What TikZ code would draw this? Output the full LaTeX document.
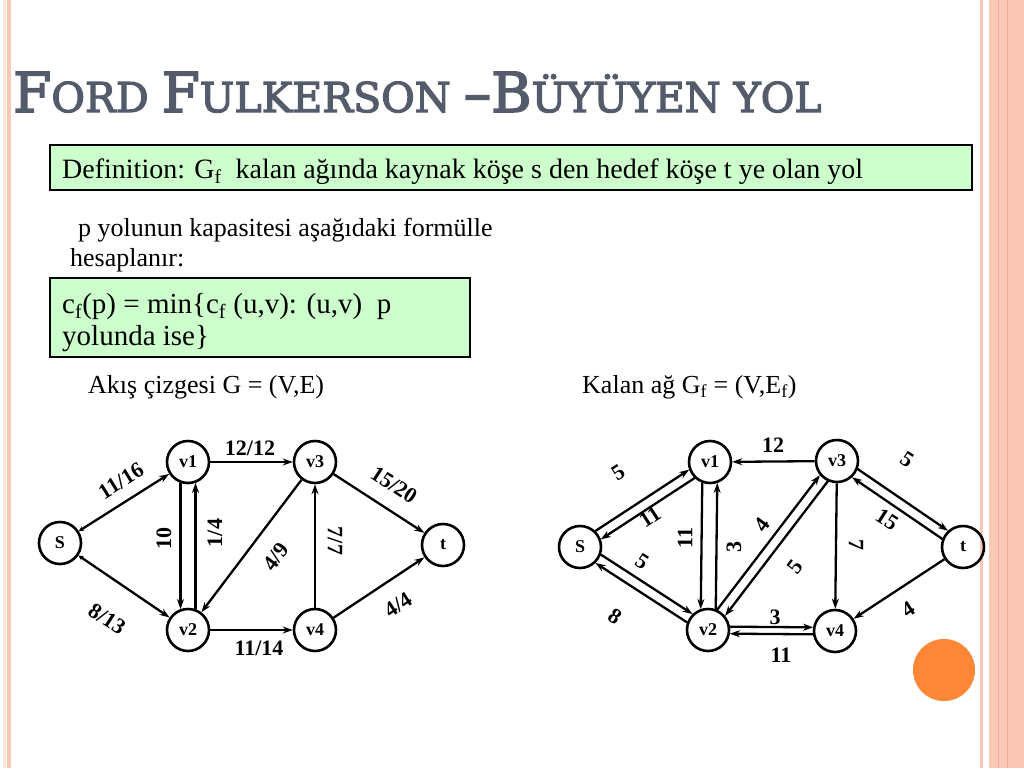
\documentclass[tikz,border=0pt]{standalone}
\usepackage{fontspec}
\setmainfont{Liberation Serif}
\newfontfamily\titlefont[FakeBold=3]{DejaVu Serif}
\usetikzlibrary{arrows.meta,calc}
\definecolor{stripe}{RGB}{251,200,182}
\definecolor{stripedark}{RGB}{242,168,142}
\definecolor{stripelight}{RGB}{253,230,220}
\definecolor{boxgreen}{RGB}{204,255,204}
\definecolor{titlegray}{RGB}{84,92,108}
\definecolor{dotorange}{RGB}{253,135,55}
\newcommand\fs[1]{\fontsize{#1}{#1}\selectfont}
\newcommand\bigc[1]{{\fs{55}#1}}
\newcommand\smc[1]{{\fs{41}#1}}
\begin{document}
\begin{tikzpicture}[x=1pt,y=-1pt,
  vtx/.style={circle,draw,line width=2.6pt,minimum size=42pt,inner sep=0pt,font=\bfseries\fs{18}},
  edge/.style={line width=2.3pt,-{Stealth[length=10pt,width=7pt]}},
  pedgeA/.style={edge,shorten <=20.9pt,shorten >=20.9pt},
  pedgeB/.style={edge,shorten <=21.6pt,shorten >=21.6pt},
  pedgeC/.style={edge,shorten <=21.9pt,shorten >=21.9pt},
  elab/.style={font=\bfseries\fs{22},inner sep=0pt},
  txt/.style={anchor=base west,inner sep=0pt},
  gbox/.style={draw,line width=2pt,fill=boxgreen}]
\useasboundingbox (0,0) rectangle (1024,768);
% side stripes
\fill[stripelight] (3,0) rectangle (6,768);
\fill[stripe] (7,0) rectangle (11,768);
\fill[stripe] (980,0) rectangle (983,768);
\fill[stripe] (989,0) rectangle (1024,768);
\fill[stripedark] (997.5,0) rectangle (998.5,768);
\fill[stripedark] (1006.5,0) rectangle (1007.5,768);
% title
\node[txt,text=titlegray] (title) at (13,112) {\titlefont\fs{41}\bigc{F}\smc{ORD} \bigc{F}\smc{ULKERSON} \bigc{–B}\smc{ÜYÜYEN YOL}};
% definition box
\draw[gbox] (50,145) rectangle (972,190);
\node[txt] (def) at (62,178) {\fs{28}Definition: G\textsubscript{f}\ \ kalan ağında kaynak köşe s den hedef köşe t ye olan yol};
\node[txt] (p1) at (78,236) {\fs{26}p yolunun kapasitesi aşağıdaki formülle};
\node[txt] (p2) at (70,266) {\fs{26}hesaplanır:};
\draw[gbox] (50,278) rectangle (470,357);
\node[txt] (f1) at (62,313) {\fs{29}c\textsubscript{f}(p) = min\{c\textsubscript{f} (u,v): (u,v)\ \ p};
\node[txt] (f2) at (62,345) {\fs{29}yolunda ise\}};
\node[txt] (capL) at (88,393) {\fs{26}Akış çizgesi G = (V,E)};
\node[txt] (capR) at (582,393) {\fs{26}Kalan ağ G\textsubscript{f} = (V,E\textsubscript{f})};
% left graph
\node[vtx] (S) at (60,543) {S};
\node[vtx] (v1) at (188,462) {v1};
\node[vtx] (v3) at (315,462) {v3};
\node[vtx] (t) at (443,545) {t};
\node[vtx] (v2) at (188,630) {v2};
\node[vtx] (v4) at (315,630) {v4};
\draw[edge,{Stealth[length=5pt,width=5pt]}-{Stealth[length=10pt,width=7pt]}] (S) -- (v1);
\draw[edge,{Stealth[length=5pt,width=5pt]}-{Stealth[length=10pt,width=7pt]}] (S) -- (v2);
\draw[pedgeA] ($(v1)!7.5pt!-90:(v2)$) -- ($(v2)!7.5pt!90:(v1)$);
\draw[pedgeA] ($(v2)!7.5pt!-90:(v1)$) -- ($(v1)!7.5pt!90:(v2)$);
\draw[edge] (v1) -- (v3);
\draw[edge] (v3) -- (v2);
\draw[edge] (v4) -- (v3);
\draw[edge] (v3) -- (t);
\draw[edge] (v2) -- (v4);
\draw[edge] (v4) -- (t);
\node[elab,rotate=32] (l1) at (121,481) {11/16};
\node[elab,rotate=-33] (l2) at (107,619) {8/13};
\node[elab,rotate=90] (l3) at (164,538) {10};
\node[elab,rotate=90] (l4) at (215,533) {1/4};
\node[elab] (l5) at (250,448) {12/12};
\node[elab,rotate=53] (l6) at (276,557) {4/9};
\node[elab,rotate=-90] (l7) at (335,541) {7/7};
\node[elab,rotate=-33] (l8) at (394,485) {15/20};
\node[elab] (l9) at (259,648) {11/14};
\node[elab,rotate=33] (l10) at (398,605) {4/4};
% right graph
\node[vtx] (RS) at (580,547) {S};
\node[vtx] (Rv1) at (710,462) {v1};
\node[vtx] (Rv3) at (837,461) {v3};
\node[vtx] (Rt) at (963,547) {t};
\node[vtx] (Rv2) at (708,630) {v2};
\node[vtx] (Rv4) at (835,631) {v4};
\draw[pedgeB] ($(RS)!5pt!90:(Rv1)$) -- ($(Rv1)!5pt!-90:(RS)$);
\draw[pedgeB] ($(Rv1)!5pt!90:(RS)$) -- ($(RS)!5pt!-90:(Rv1)$);
\draw[pedgeB] ($(RS)!5pt!90:(Rv2)$) -- ($(Rv2)!5pt!-90:(RS)$);
\draw[pedgeB] ($(Rv2)!5pt!90:(RS)$) -- ($(RS)!5pt!-90:(Rv2)$);
\draw[pedgeA] ($(Rv1)!7.5pt!-90:(Rv2)$) -- ($(Rv2)!7.5pt!90:(Rv1)$);
\draw[pedgeA] ($(Rv2)!7.5pt!-90:(Rv1)$) -- ($(Rv1)!7.5pt!90:(Rv2)$);
\draw[pedgeB] ($(Rv2)!5pt!90:(Rv3)$) -- ($(Rv3)!5pt!-90:(Rv2)$);
\draw[pedgeB] ($(Rv3)!5pt!90:(Rv2)$) -- ($(Rv2)!5pt!-90:(Rv3)$);
\draw[pedgeB] ($(Rv3)!5pt!90:(Rt)$) -- ($(Rt)!5pt!-90:(Rv3)$);
\draw[pedgeB] ($(Rt)!5pt!90:(Rv3)$) -- ($(Rv3)!5pt!-90:(Rt)$);
\draw[pedgeC] ($(Rv2)!3.5pt!90:(Rv4)$) -- ($(Rv4)!3.5pt!-90:(Rv2)$);
\draw[pedgeC] ($(Rv4)!3.5pt!90:(Rv2)$) -- ($(Rv2)!3.5pt!-90:(Rv4)$);
\draw[edge] (Rv3) -- (Rv1);
\draw[edge] (Rv3) -- (Rv4);
\draw[edge] (Rt) -- (Rv4);
\node[elab,rotate=33] (r1) at (618,473) {5};
\node[elab,rotate=33] (r2) at (650,517) {11};
\node[elab,rotate=-33] (r3) at (642,562) {5};
\node[elab,rotate=-33] (r4) at (615,616) {8};
\node[elab,rotate=90] (r5) at (685,538) {11};
\node[elab,rotate=90] (r6) at (734,547) {3};
\node[elab] (r7) at (773,445) {12};
\node[elab,rotate=53] (r8) at (762,525) {4};
\node[elab,rotate=53] (r9) at (795,567) {5};
\node[elab,rotate=-90] (r10) at (856,545) {7};
\node[elab,rotate=-33] (r11) at (907,460) {5};
\node[elab,rotate=-33] (r12) at (887,519) {15};
\node[elab,rotate=33] (r13) at (908,609) {4};
\node[elab] (r14) at (775,617) {3};
\node[elab] (r15) at (781,655) {11};
% orange dot
\fill[dotorange] (944,670) circle (31);
\end{tikzpicture}
\end{document}
